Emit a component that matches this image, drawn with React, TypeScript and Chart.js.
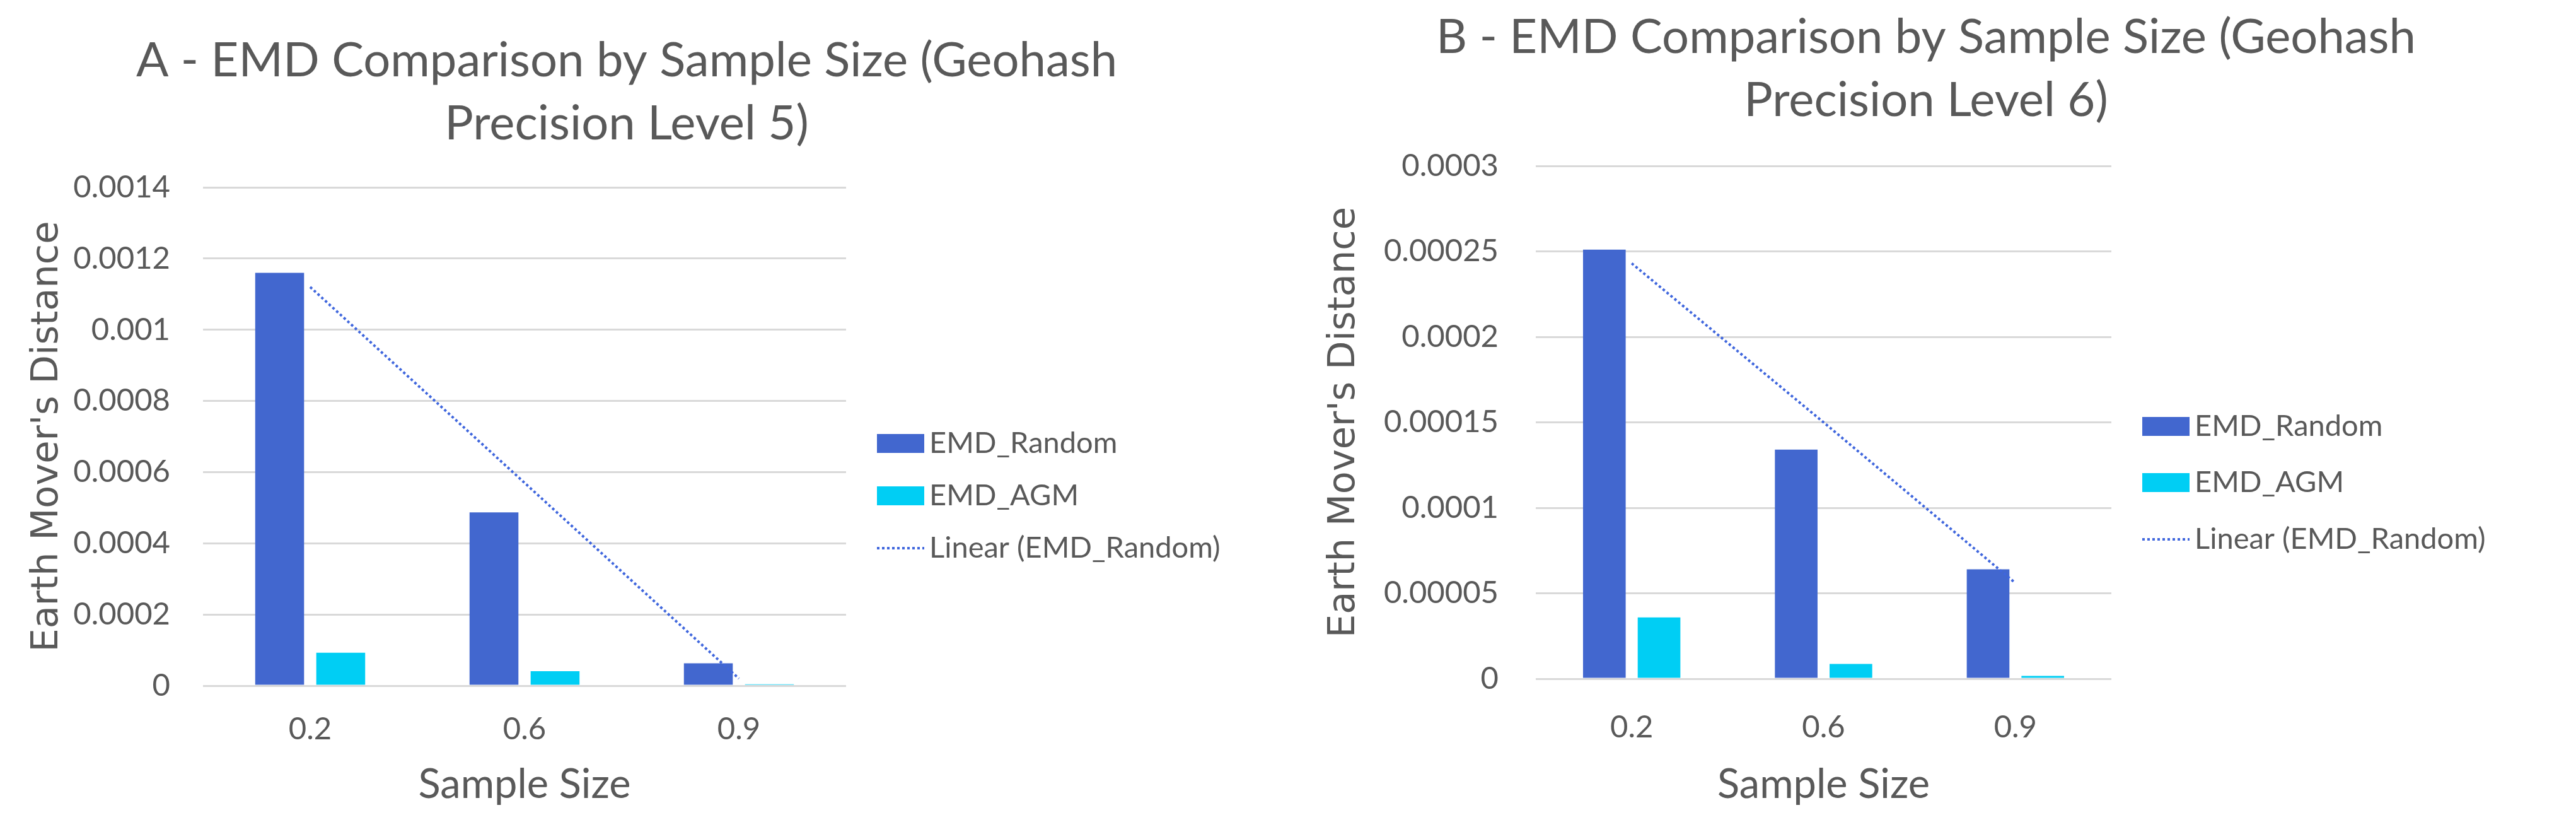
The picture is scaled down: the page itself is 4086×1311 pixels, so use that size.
import React, { useEffect, useRef } from 'react';
import { Chart, registerables } from 'chart.js';

Chart.register(...registerables);

// ---------- data ----------
const categories = ['0.2', '0.6', '0.9'];
const seriesLabels = ['EMD_Random', 'EMD_AGM', 'Linear (EMD_Random)'];

const randomA = [0.00116, 0.000487, 0.0000627];
const agmA = [0.0000925, 0.0000406, 0.0000042];
const trendA = [0.00112, 0.00057, 0.00002];
const yTicksA = ['0', '0.0002', '0.0004', '0.0006', '0.0008', '0.001', '0.0012', '0.0014'];
const titleA = ['A - EMD Comparison by Sample Size (Geohash', 'Precision Level 5)'];

const randomB = [0.000251, 0.000134, 0.000064];
const agmB = [0.0000359, 0.0000087, 0.0000017];
const trendB = [0.000243, 0.00015, 0.000056];
const yTicksB = ['0', '0.00005', '0.0001', '0.00015', '0.0002', '0.00025', '0.0003'];
const titleB = ['B - EMD Comparison by Sample Size (Geohash', 'Precision Level 6)'];

const xTitle = 'Sample Size';
const yTitle = "Earth Mover's Distance";

// ---------- styles ----------
const TEXT = '#595959';
const GRID = '#D9D9D9';
const BLUE = '#4267CF';
const CYAN = '#00CEF4';
const TREND = '#3F66DD';
const FONT = 'Lato';
const H = 1311;

const titlePlugin = {
  id: 'twoLineTitle',
  afterDraw(chart: any, _a: any, o: any) {
    const ctx = chart.ctx;
    ctx.save();
    ctx.fillStyle = o.color;
    ctx.font = `${o.size}px ${o.family}`;
    ctx.textAlign = 'center';
    ctx.textBaseline = 'middle';
    const lines: string[] = o.text;
    for (let i = 0; i < lines.length; i++) {
      ctx.fillText(lines[i], o.cx, o.ys[i]);
    }
    ctx.restore();
  },
};

const legendPlugin = {
  id: 'sideLegend',
  afterDraw(chart: any, _a: any, o: any) {
    const ctx = chart.ctx;
    ctx.save();
    chart.data.datasets.forEach((d: any, i: number) => {
      const y = o.ys[i];
      const x = o.x;
      if (d.type === 'line') {
        ctx.strokeStyle = d.borderColor;
        ctx.lineWidth = d.borderWidth;
        ctx.setLineDash(d.borderDash);
        ctx.beginPath();
        ctx.moveTo(x, y);
        ctx.lineTo(x + o.boxW, y);
        ctx.stroke();
        ctx.setLineDash([]);
      } else {
        ctx.fillStyle = d.backgroundColor;
        ctx.fillRect(x, y - o.boxH / 2, o.boxW, o.boxH);
      }
      ctx.fillStyle = o.color;
      ctx.font = `${o.size}px ${o.family}`;
      ctx.textAlign = 'left';
      ctx.textBaseline = 'middle';
      ctx.fillText(d.label, x + o.boxW + o.gap, y);
    });
    ctx.restore();
  },
};

type Layout = {
  width: number;
  plotLeft: number;
  plotRight: number;
  plotTop: number;
  plotBottom: number;
  titleCx: number;
  titleYs: number[];
  tickPadY: number;
  tickPadX: number;
  yTitlePad: number;
  xTitlePad: number;
  legendX: number;
  legendYs: number[];
  barPct: number;
};

function buildConfig(
  random: number[],
  agm: number[],
  trend: number[],
  yTicks: string[],
  yMax: number,
  yStep: number,
  title: string[],
  L: Layout
): any {
  return {
    type: 'bar',
    data: {
      labels: categories,
      datasets: [
        {
          type: 'bar',
          label: seriesLabels[0],
          data: random,
          backgroundColor: BLUE,
          borderWidth: 0,
          order: 1,
          categoryPercentage: 0.57,
          barPercentage: L.barPct,
        },
        {
          type: 'bar',
          label: seriesLabels[1],
          data: agm,
          backgroundColor: CYAN,
          borderWidth: 0,
          order: 1,
          categoryPercentage: 0.57,
          barPercentage: L.barPct,
        },
        {
          type: 'line',
          label: seriesLabels[2],
          data: trend,
          borderColor: TREND,
          backgroundColor: TREND,
          borderWidth: 4,
          borderDash: [4, 4],
          pointRadius: 0,
          fill: false,
          tension: 0,
          order: 0,
        },
      ],
    },
    options: {
      responsive: false,
      animation: false,
      devicePixelRatio: 1,
      layout: {
        padding: {
          left: 0,
          top: L.plotTop,
          right: L.width - L.plotRight,
          bottom: 0,
        },
      },
      plugins: {
        legend: { display: false },
        title: { display: false },
        tooltip: { enabled: false },
        twoLineTitle: {
          text: title,
          cx: L.titleCx,
          ys: L.titleYs,
          size: 76,
          family: FONT,
          color: TEXT,
        },
        sideLegend: {
          x: L.legendX,
          ys: L.legendYs,
          boxW: 75,
          boxH: 30,
          gap: 8,
          size: 47,
          family: FONT,
          color: TEXT,
        },
      },
      scales: {
        x: {
          afterFit: (s: any) => {
            s.height = H - L.plotBottom;
          },
          grid: { display: false, drawTicks: false },
          border: { display: false },
          ticks: {
            color: TEXT,
            font: { family: FONT, size: 49 },
            padding: L.tickPadX,
            maxRotation: 0,
          },
          title: {
            display: true,
            text: xTitle,
            color: TEXT,
            font: { family: FONT, size: 65 },
            padding: { top: 0, bottom: L.xTitlePad },
          },
        },
        y: {
          min: 0,
          max: yMax,
          afterFit: (s: any) => {
            s.width = L.plotLeft;
          },
          grid: { color: GRID, lineWidth: 3, drawTicks: false },
          border: { display: false },
          ticks: {
            stepSize: yStep,
            color: TEXT,
            font: { family: FONT, size: 49 },
            padding: L.tickPadY,
            callback: (_v: any, i: number) => yTicks[i],
          },
          title: {
            display: true,
            text: yTitle,
            color: TEXT,
            font: { family: 'DejaVu Sans', size: 59 },
            padding: { top: L.yTitlePad, bottom: 0 },
          },
        },
      },
    },
    plugins: [titlePlugin, legendPlugin],
  };
}

function ChartCanvas({ left, width, config }: { left: number; width: number; config: any }) {
  const ref = useRef<HTMLCanvasElement>(null);
  useEffect(() => {
    if (!ref.current) return;
    const chart = new Chart(ref.current, config);
    return () => chart.destroy();
  }, []);
  return (
    <canvas
      ref={ref}
      width={width}
      height={H}
      style={{ position: 'absolute', left, top: 0, width, height: H }}
    />
  );
}

const layoutA: Layout = {
  width: 2000,
  plotLeft: 322,
  plotRight: 1342,
  plotTop: 297,
  plotBottom: 1087,
  titleCx: 994,
  titleYs: [96, 196],
  tickPadY: 52,
  tickPadX: 40,
  yTitlePad: 40,
  xTitlePad: 28,
  legendX: 1391,
  legendYs: [703, 786, 869],
  barPct: 0.8,
};

const offB = 2030;
const layoutB: Layout = {
  width: 4086 - offB,
  plotLeft: 2436 - offB,
  plotRight: 3349 - offB,
  plotTop: 263,
  plotBottom: 1076,
  titleCx: 3055 - offB,
  titleYs: [59, 159],
  tickPadY: 59,
  tickPadX: 48,
  yTitlePad: 2133 - offB - 36,
  xTitlePad: 28,
  legendX: 3398 - offB,
  legendYs: [676, 765, 855],
  barPct: 0.78,
};

export default function App() {
  const cfgA = buildConfig(randomA, agmA, trendA, yTicksA, 0.0014, 0.0002, titleA, layoutA);
  const cfgB = buildConfig(randomB, agmB, trendB, yTicksB, 0.0003, 0.00005, titleB, layoutB);
  return (
    <div style={{ position: 'absolute', left: 0, top: 0, width: 4086, height: H, background: '#fff', overflow: 'hidden' }}>
      <ChartCanvas left={0} width={layoutA.width} config={cfgA} />
      <ChartCanvas left={offB} width={layoutB.width} config={cfgB} />
    </div>
  );
}
